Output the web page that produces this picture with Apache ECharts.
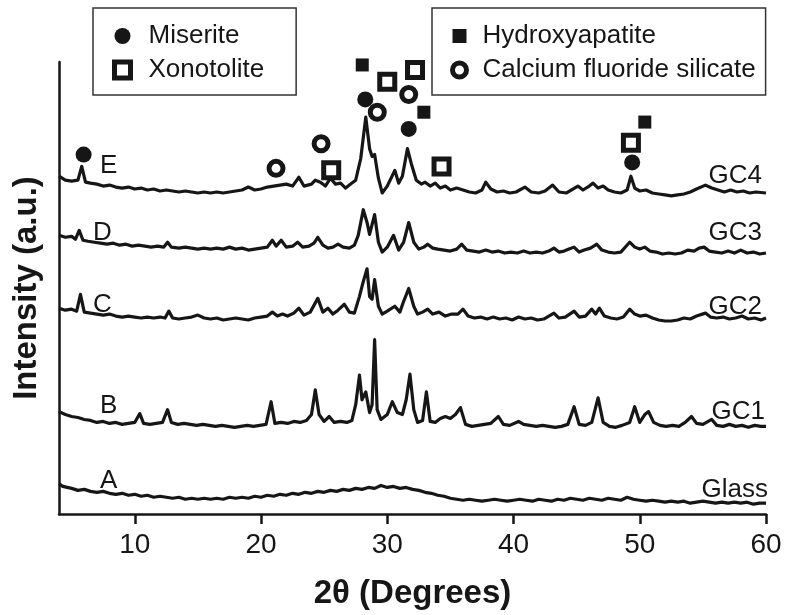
<!DOCTYPE html>
<html><head><meta charset="utf-8">
<script src="https://cdn.jsdelivr.net/npm/echarts@6/dist/echarts.min.js"></script>
<style>html,body{margin:0;padding:0;background:#fff}#c{width:788px;height:615px}</style>
</head><body><div id="c"></div>
<script>
// x tick labels (2θ, degrees)
const xTicks = [10, 20, 30, 40, 50, 60];

// XRD traces: [2θ, intensity (a.u., stacked offset)]
const glass = [[4.0,31],[4.3,28],[5.0,26],[5.5,24],[6.0,25],[6.5,23],[7.0,22],[7.5,23],[8.0,21],[8.5,20],[9.0,21],[9.5,19],[10,20],[10.5,18],[11,19],[11.5,17],[12,18],[12.5,17],[13,16],[13.5,17],[14,15],[14.5,16],[15,15],[15.5,16],[16,15],[16.5,16],[17,15],[17.5,17],[18,16],[18.5,17],[19,16],[19.5,18],[20,17],[20.5,19],[21,18],[21.5,20],[22,19],[22.5,21],[23,20],[23.5,22],[24,21],[24.5,23],[25,22],[25.5,24],[26,23],[26.5,25],[27,24],[27.5,26],[28,25],[28.5,27],[29,26],[29.5,29],[30,27],[30.5,28],[31,26],[31.5,27],[32,25],[32.5,24],[33,22],[33.5,21],[34,19],[34.5,18],[35,16],[35.5,15],[36,14],[36.5,15],[37,14],[37.5,13],[38,14],[38.5,15],[39,14],[39.5,13],[40,14],[40.5,15],[41,14],[41.5,13],[42,15],[42.5,14],[43,13],[43.5,15],[44,14],[44.5,16],[45,15],[45.5,14],[46,16],[46.5,15],[47,14],[47.5,16],[48,15],[48.5,14],[49,17],[49.5,15],[50,14],[50.5,13],[51,14],[51.5,13],[52,12],[52.5,13],[53,12],[53.5,13],[54,11],[54.5,12],[55,13],[55.5,12],[56,11],[56.5,12],[57,11],[57.5,12],[58,11],[58.5,12],[59,10],[59.5,11],[60,11]];

const gc1 = [[4.0,104],[4.5,101],[5.0,99],[5.5,98],[6.0,96],[6.5,95],[7.0,93],[7.5,94],[8.0,92],[8.5,93],[9.0,91],[9.5,92],[10.0,93],[10.4,102],[10.7,92],[11.2,91],[11.7,92],[12.2,93],[12.6,106],[12.9,93],[13.4,91],[13.9,92],[14.4,91],[14.9,90],[15.4,91],[15.9,90],[16.4,89],[16.9,90],[17.4,89],[17.9,88],[18.4,89],[18.9,90],[19.4,89],[19.9,90],[20.4,91],[20.8,114],[21.1,92],[21.6,93],[22.1,92],[22.6,94],[23.1,93],[23.6,95],[24.0,101],[24.3,126],[24.6,101],[25.0,94],[25.4,99],[25.8,93],[26.3,94],[26.8,93],[27.2,95],[27.5,111],[27.8,141],[28.0,116],[28.3,124],[28.6,103],[28.8,111],[29.0,177],[29.2,106],[29.5,96],[30.0,101],[30.4,114],[30.8,103],[31.2,101],[31.5,116],[31.8,142],[32.1,106],[32.4,93],[32.8,95],[33.1,124],[33.4,94],[33.8,93],[34.2,97],[34.6,99],[35.0,97],[35.4,101],[35.8,108],[36.2,91],[36.7,89],[37.2,90],[37.7,91],[38.2,92],[38.8,99],[39.2,91],[39.7,90],[40.4,94],[40.8,91],[41.3,90],[41.8,89],[42.3,90],[42.8,89],[43.3,88],[43.8,89],[44.3,91],[44.8,109],[45.2,91],[45.7,90],[46.2,93],[46.7,118],[47.1,93],[47.6,89],[48.1,88],[48.6,90],[49.2,93],[49.6,109],[50.0,93],[50.4,101],[50.7,104],[51.1,93],[51.6,90],[52.1,89],[52.6,90],[53.1,89],[53.6,93],[54.1,99],[54.5,92],[55.0,91],[55.7,96],[56.1,90],[56.6,89],[57.1,91],[57.6,89],[58.1,90],[58.6,88],[59.1,90],[59.6,89],[60.0,89]];

const gc2 = [[4.0,209],[4.5,207],[5.0,208],[5.4,206],[5.7,223],[6.0,205],[6.5,204],[7.0,203],[7.5,202],[8.0,203],[8.5,201],[9.0,200],[9.5,201],[10.0,200],[10.5,199],[11.0,200],[11.5,199],[12.0,200],[12.4,199],[12.7,206],[13.0,199],[13.5,198],[14.0,199],[14.5,200],[15.0,202],[15.5,199],[16.0,198],[16.5,199],[17.0,197],[17.5,198],[18.0,199],[18.5,198],[19.0,197],[19.5,199],[20.0,200],[20.5,201],[20.9,205],[21.3,201],[21.7,203],[22.1,201],[22.6,204],[23.0,209],[23.4,202],[23.9,205],[24.5,219],[24.9,205],[25.3,209],[25.7,203],[26.1,207],[26.6,213],[27.0,205],[27.4,204],[27.8,221],[28.1,236],[28.4,249],[28.6,221],[28.8,218],[29.0,238],[29.3,211],[29.6,203],[30.0,206],[30.6,211],[31.0,205],[31.3,216],[31.7,229],[32.1,211],[32.4,203],[32.8,205],[33.2,208],[33.6,203],[34.1,205],[34.6,201],[35.1,203],[35.6,203],[36.0,208],[36.4,201],[36.9,199],[37.4,200],[37.9,198],[38.4,200],[38.9,198],[39.4,199],[39.9,197],[40.4,200],[40.9,198],[41.4,199],[41.9,197],[42.4,198],[42.8,201],[43.2,204],[43.6,199],[44.1,200],[44.8,206],[45.2,200],[45.7,201],[46.2,208],[46.5,203],[46.8,209],[47.2,201],[47.7,199],[48.2,198],[48.7,200],[49.2,208],[49.6,203],[50.0,201],[50.5,202],[51.0,199],[51.5,197],[52.0,196],[52.5,196],[53.0,197],[53.5,199],[54.0,198],[54.5,201],[55.2,204],[55.6,200],[56.1,199],[56.6,200],[57.1,198],[57.6,199],[58.1,201],[58.6,198],[59.1,199],[59.6,197],[60.0,199]];

const gc3 = [[4.0,283],[4.5,281],[5.0,282],[5.3,279],[5.6,288],[5.9,278],[6.3,277],[6.8,276],[7.3,275],[7.8,274],[8.3,275],[8.8,273],[9.3,274],[9.8,272],[10.3,273],[10.8,272],[11.3,271],[11.8,272],[12.3,271],[12.6,276],[12.9,271],[13.5,270],[14.0,271],[14.5,270],[15.0,269],[15.5,270],[16.0,269],[16.5,270],[17.0,269],[17.5,271],[18.0,269],[18.5,270],[19.0,268],[19.5,269],[20.0,270],[20.5,271],[20.9,278],[21.2,272],[21.6,278],[22.0,271],[22.5,272],[22.9,276],[23.3,271],[23.8,272],[24.2,275],[24.5,281],[24.9,273],[25.3,270],[25.7,271],[26.1,274],[26.5,271],[27.0,270],[27.4,273],[27.7,283],[28.1,309],[28.4,296],[28.6,284],[29.0,304],[29.3,276],[29.6,266],[30.0,271],[30.5,283],[30.9,268],[31.3,276],[31.7,296],[32.1,276],[32.5,269],[32.9,271],[33.2,274],[33.6,270],[34.0,269],[34.5,268],[35.0,267],[35.5,269],[35.9,274],[36.3,268],[36.8,267],[37.3,266],[37.8,268],[38.3,266],[38.8,267],[39.3,265],[39.8,266],[40.3,265],[40.8,267],[41.3,265],[41.8,266],[42.3,265],[42.8,267],[43.2,270],[43.6,266],[44.0,267],[44.4,269],[44.8,271],[45.2,266],[45.6,268],[46.1,270],[46.6,274],[47.0,268],[47.5,266],[48.0,265],[48.5,266],[49.2,276],[49.6,271],[50.0,269],[50.4,271],[50.8,267],[51.3,266],[51.8,264],[52.3,265],[52.8,264],[53.3,265],[53.8,268],[54.3,267],[54.7,270],[55.1,271],[55.5,267],[56.0,266],[56.5,265],[57.0,267],[57.5,265],[58.0,268],[58.5,265],[59.0,266],[59.5,264],[60.0,265]];

const gc4 = [[4.0,343],[4.5,339],[5.0,338],[5.5,339],[5.8,353],[6.1,337],[6.5,336],[7.0,335],[7.5,333],[8.0,334],[8.5,332],[9.0,331],[9.5,332],[10.0,330],[10.5,331],[11.0,329],[11.5,330],[12.0,328],[12.5,329],[13.0,328],[13.5,327],[14.0,328],[14.5,327],[15.0,326],[15.5,327],[16.0,326],[16.5,327],[17.0,326],[17.5,327],[18.0,328],[18.5,329],[19.0,332],[19.5,329],[20.0,330],[20.5,332],[21.0,333],[21.5,334],[22.0,335],[22.5,333],[23.0,342],[23.4,333],[24.0,335],[24.3,339],[24.7,337],[25.1,333],[25.5,341],[25.9,335],[26.3,336],[26.7,331],[27.1,335],[27.5,339],[27.9,361],[28.3,403],[28.6,371],[28.8,363],[29.0,365],[29.3,341],[29.6,326],[30.0,333],[30.3,341],[30.6,349],[30.9,336],[31.2,343],[31.6,371],[31.9,356],[32.3,339],[32.7,335],[33.0,337],[33.4,333],[33.8,336],[34.2,331],[34.6,333],[35.0,329],[35.5,331],[36.0,329],[36.5,327],[37.0,326],[37.5,329],[37.8,337],[38.2,330],[38.7,327],[39.2,328],[39.7,326],[40.2,327],[40.9,332],[41.4,327],[42.0,326],[42.5,328],[43.1,334],[43.6,327],[44.2,326],[44.7,330],[45.1,333],[45.5,329],[46.0,333],[46.3,336],[46.7,331],[47.1,333],[47.5,329],[48.0,327],[48.5,326],[49.0,329],[49.3,343],[49.6,331],[50.0,328],[50.5,329],[51.0,326],[51.5,325],[52.0,324],[52.5,323],[53.0,324],[53.5,325],[54.0,327],[54.5,330],[55.2,334],[55.7,331],[56.2,329],[56.7,327],[57.2,329],[57.7,327],[58.2,328],[58.7,326],[59.2,327],[60.0,326]];

// Phase markers: [2θ, position]
const miserite = [[5.95,365],[28.26,421],[31.7,391],[49.4,357]];
const xonotolite = [[25.56,349],[30.0,439],[32.2,451],[34.3,353],[49.3,377]];
const hydroxyapatite = [[28.02,456],[32.9,408],[50.4,398]];
const cafSilicate = [[21.19,351],[24.76,376],[29.21,408],[31.7,426]];

const traceNames = ['Glass','GC1','GC2','GC3','GC4'];
const traceData = [glass, gc1, gc2, gc3, gc4];

const INK = '#161616';
const REG = '"Liberation Sans", Arial, sans-serif';

const chart = echarts.init(document.getElementById('c'), null, {renderer: 'canvas'});

const series = traceNames.map((n, i) => ({
  name: n, type: 'line', data: traceData[i], showSymbol: false, symbol: 'none',
  lineStyle: {color: INK, width: 3.2, join: 'round'}, z: 2, silent: true, animation: false
}));

const filledStyle = {color: INK, opacity: 1, borderWidth: 0};
const openStyle = {color: '#fff', opacity: 1, borderColor: INK, borderWidth: 5};
function marker(name, data, symbol, size, filled) {
  return {
    name, type: 'scatter', data, symbol, symbolSize: size, clip: false, z: 5,
    itemStyle: filled ? filledStyle : openStyle,
    emphasis: {disabled: true}, animation: false, silent: true
  };
}
series.push(marker('Miserite', miserite, 'circle', 16, true));
series.push(marker('Xonotolite', xonotolite, 'rect', 15, false));
series.push(marker('Hydroxyapatite', hydroxyapatite, 'rect', 13, true));
series.push(marker('Calcium fluoride silicate', cafSilicate, 'circle', 14, false));

const legendBase = {
  orient: 'vertical', selectedMode: false, backgroundColor: '#fff',
  borderColor: '#333', borderWidth: 1.5, borderRadius: 0, itemGap: 4,
  textStyle: {fontSize: 26, fontFamily: REG, color: INK, lineHeight: 30}
};

const sideLabels = [
  ['E', 100, 166], ['D', 93, 233], ['C', 93, 305], ['B', 100, 406], ['A', 100, 481]
];
const endLabels = [
  ['GC4', 762, 176], ['GC3', 762, 233], ['GC2', 762, 307], ['GC1', 765, 412], ['Glass', 768, 490]
];
const graphics = [];
sideLabels.forEach(([t, x, y]) => graphics.push({type: 'text', x, y, style: {text: t, fontSize: 26, fontFamily: REG, fill: INK, align: 'left', verticalAlign: 'middle'}, z: 10}));
endLabels.forEach(([t, x, y]) => graphics.push({type: 'text', x, y, style: {text: t, fontSize: 26, fontFamily: REG, fill: INK, align: 'right', verticalAlign: 'middle'}, z: 10}));

chart.setOption({
  animation: false,
  backgroundColor: '#fff',
  grid: {left: 59, right: 22, top: 62, bottom: 94, containLabel: false},
  xAxis: {
    type: 'value', min: 4, max: 60,
    name: '2θ (Degrees)', nameLocation: 'middle', nameGap: 63,
    nameTextStyle: {fontSize: 33, fontWeight: 'bold', fontFamily: REG, color: INK},
    axisLine: {show: true, onZero: false, lineStyle: {color: INK, width: 2.5}},
    axisTick: {show: true, inside: false, length: 10, customValues: xTicks, lineStyle: {color: INK, width: 2.5}},
    axisLabel: {customValues: xTicks, fontSize: 28, fontFamily: REG, color: INK, margin: 17},
    splitLine: {show: false}
  },
  yAxis: {
    type: 'value', min: 0, max: 459,
    name: 'Intensity (a.u.)', nameLocation: 'middle', nameGap: 16,
    nameTextStyle: {fontSize: 33, fontWeight: 'bold', fontFamily: REG, color: INK},
    axisLine: {show: true, onZero: false, lineStyle: {color: INK, width: 2.5}},
    axisTick: {show: false}, axisLabel: {show: false}, splitLine: {show: false}
  },
  legend: [
    Object.assign({}, legendBase, {
      data: [
        {name: 'Miserite', icon: 'circle', itemStyle: filledStyle},
        {name: 'Xonotolite', icon: 'rect', itemStyle: openStyle}
      ],
      left: 93, top: 8,
      itemWidth: 16, itemHeight: 16, padding: [13, 32, 10, 19],
      textStyle: Object.assign({}, legendBase.textStyle, {padding: [0, 0, 0, 13]})
    }),
    Object.assign({}, legendBase, {
      data: [
        {name: 'Hydroxyapatite', icon: 'rect', itemStyle: filledStyle},
        {name: 'Calcium fluoride silicate', icon: 'circle', itemStyle: openStyle}
      ],
      left: 432, top: 8,
      itemWidth: 14, itemHeight: 14, padding: [13, 10, 10, 18],
      textStyle: Object.assign({}, legendBase.textStyle, {padding: [0, 0, 0, 11]})
    })
  ],
  graphic: graphics,
  series
});
</script>
</body></html>
